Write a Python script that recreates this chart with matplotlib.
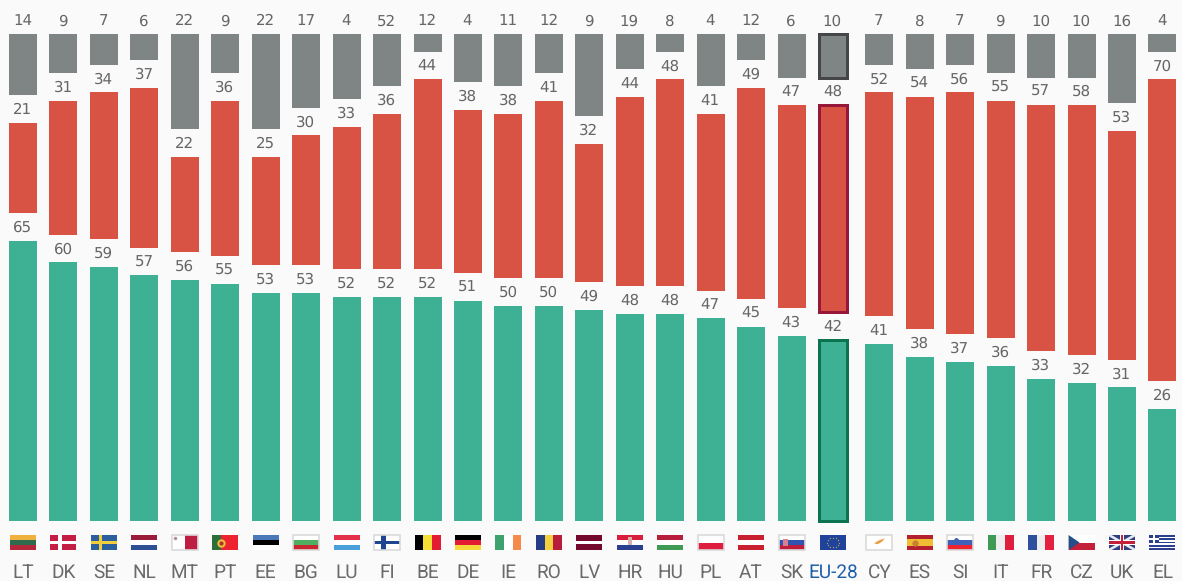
import matplotlib
matplotlib.use("Agg")
import matplotlib.pyplot as plt
from matplotlib.patches import Rectangle, Polygon
from matplotlib.transforms import Affine2D

plt.rcParams["text.hinting"] = "no_hinting"
plt.rcParams["text.hinting_factor"] = 1

categories = ["LT","DK","SE","NL","MT","PT","EE","BG","LU","FI","BE","DE","IE","RO","LV",
              "HR","HU","PL","AT","SK","EU-28","CY","ES","SI","IT","FR","CZ","UK","EL"]
green = [65,60,59,57,56,55,53,53,52,52,52,51,50,50,49,48,48,47,45,43,42,41,38,37,36,33,32,31,26]
red   = [21,31,34,37,22,36,25,30,33,36,44,38,38,41,32,44,48,41,49,47,48,52,54,56,55,57,58,53,70]
gray  = [14,9,7,6,22,9,22,17,15,12,4,11,12,9,19,8,4,12,6,10,10,7,8,7,9,10,10,16,4]
gray_labels = [14,9,7,6,22,9,22,17,4,52,12,4,11,12,9,19,8,4,12,6,10,7,8,7,9,10,10,16,4]

BG = "#FAFAFA"; GREEN = "#3EB094"; RED = "#D95344"; GRAY = "#7F8484"
TXT = "#666666"
W, H = 1182, 581
STEP, X0 = 40.45, 23.0     # px per category, first centre
PXU, BASE = 4.31, 521.0    # px per unit, baseline
GAP = 6.45                 # blank units between stacked segments
BW = 28 / STEP
EU = categories.index("EU-28")
xs = [k + (0.17 if k > EU else 0.02 if k == EU else 0) for k in range(len(categories))]

fig = plt.figure(figsize=(W/100, H/100), dpi=100, facecolor=BG)
ax = fig.add_axes([0, 0, 1, 1], facecolor=BG)
ax.set_xlim(-X0/STEP, (W-X0)/STEP)
ax.set_ylim(-(H-BASE)/PXU, BASE/PXU)
ax.axis("off")

b_red = [g + GAP for g in green]
b_gray = [g + r + 2*GAP for g, r in zip(green, red)]
ax.bar(xs, green, BW, color=GREEN)
ax.bar(xs, red, BW, bottom=b_red, color=RED)
ax.bar(xs, gray, BW, bottom=b_gray, color=GRAY)

# highlighted EU-28 bar
for bot, val, col in [(0, green[EU], "#0B7350"), (b_red[EU], red[EU], "#96173A"), (b_gray[EU], gray[EU], "#444648")]:
    ax.add_patch(Rectangle((xs[EU] - BW/2, bot), BW, val, fill=False, edgecolor=col,
                           linewidth=2.16, zorder=3))

def lab(x, top, s):
    ax.annotate(str(s), (x, top), xytext=(-0.3, 6.5), textcoords="offset points", ha="center",
                va="baseline", fontsize=11, color=TXT, family="DejaVu Sans")

for n, k in enumerate(xs):
    lab(k, green[n], green[n])
    lab(k, b_red[n] + red[n], red[n])
    lab(k, b_gray[n] + gray[n], gray_labels[n])
    ax.text(k, -(577.5-BASE)/PXU, categories[n], ha="center", va="baseline", fontsize=14,
            color="#1F5FA8" if n == EU else "#6A6A6A", family="Roboto")

# flags, drawn in a unit square placed below each bar
FW, FH, FTOP = 26.0, 15.0, 535.0
def flag_tf(n):
    return (Affine2D().scale(FW/STEP, -FH/PXU)
            .translate(xs[n] - FW/2/STEP, (BASE - FTOP)/PXU) + ax.transData)

def rect(k, u, v, w, h, c, z=3):
    ax.add_patch(Rectangle((u, v), w, h, facecolor=c, edgecolor="none", transform=flag_tf(k), zorder=z))
def poly(k, pts, c, z=4):
    ax.add_patch(Polygon(pts, closed=True, facecolor=c, edgecolor="none", transform=flag_tf(k), zorder=z))
def hs(k, cols, w=None):
    w = w or [1/len(cols)]*len(cols); v = 0
    for c, h in zip(cols, w):
        rect(k, 0, v, 1, h, c); v += h
def vs(k, cols, w=None):
    w = w or [1/len(cols)]*len(cols); u = 0
    for c, h in zip(cols, w):
        rect(k, u, 0, h, 1, c); u += h
def border(k):
    ax.add_patch(Rectangle((0, 0), 1, 1, fill=False, edgecolor="#DADADA", linewidth=1.2,
                           transform=flag_tf(k), zorder=6))
def cross(k, c, uc=0.36, tw=0.17, th=0.26):
    rect(k, uc - tw/2, 0, tw, 1, c, 5); rect(k, 0, 0.5 - th/2, 1, th, c, 5)
def dot(k, u, v, ms, c, z=7):
    ax.plot([xs[k] + (u-0.5)*FW/STEP], [(BASE - FTOP - v*FH)/PXU], "o", ms=ms, color=c, mew=0, zorder=z)

ix = categories.index
hs(ix("LT"), ["#F0B23C", "#2F6B4F", "#B5283C"])
rect(ix("DK"), 0, 0, 1, 1, "#C41E45"); cross(ix("DK"), "#FFFFFF")
rect(ix("SE"), 0, 0, 1, 1, "#2C5F9E"); cross(ix("SE"), "#F2CE3C", tw=0.13, th=0.2)
hs(ix("NL"), ["#9B1B3B", "#FFFFFF", "#2F4F93"])
vs(ix("MT"), ["#FFFFFF", "#BE1E42"], [0.5, 0.5]); border(ix("MT")); dot(ix("MT"), 0.12, 0.18, 2.5, "#B09090")
vs(ix("PT"), ["#2E6E3A", "#EE2330"], [0.33, 0.67]); dot(ix("PT"), 0.33, 0.5, 6, "#E8C23A"); dot(ix("PT"), 0.33, 0.5, 3, "#B03030", 8)
hs(ix("EE"), ["#4B78B8", "#000000", "#FFFFFF"])
hs(ix("BG"), ["#FFFFFF", "#4FAF60", "#C9252F"]); border(ix("BG"))
hs(ix("LU"), ["#E3304A", "#FFFFFF", "#4BA0DC"])
rect(ix("FI"), 0, 0, 1, 1, "#FFFFFF"); cross(ix("FI"), "#1F4590"); border(ix("FI"))
vs(ix("BE"), ["#000000", "#F5DF36", "#E31C33"])
hs(ix("DE"), ["#000000", "#E31C33", "#F5D93A"])
vs(ix("IE"), ["#3EA26E", "#FFFFFF", "#F58A4B"])
vs(ix("RO"), ["#263D85", "#F3D03E", "#B81E3C"])
hs(ix("LV"), ["#74092D", "#FFFFFF", "#74092D"], [0.4, 0.2, 0.4])
hs(ix("HR"), ["#D91E3C", "#FFFFFF", "#2A3F8F"]); rect(ix("HR"), 0.42, 0.15, 0.18, 0.5, "#D9B0B0", 6)
hs(ix("HU"), ["#B81E3C", "#FFFFFF", "#3F9A53"])
hs(ix("PL"), ["#FFFFFF", "#DF1E3F"], [0.5, 0.5]); border(ix("PL"))
hs(ix("AT"), ["#C8202E", "#FFFFFF", "#C8202E"])
hs(ix("SK"), ["#FFFFFF", "#2F55B0", "#BE1E3C"]); border(ix("SK")); rect(ix("SK"), 0.17, 0.28, 0.2, 0.45, "#D98090", 7)
rect(ix("EU-28"), 0, 0, 1, 1, "#1F429B")
EU_STARS = [(0.5,0.18),(0.62,0.22),(0.7,0.35),(0.72,0.5),(0.7,0.65),(0.62,0.78),
            (0.5,0.82),(0.38,0.78),(0.3,0.65),(0.28,0.5),(0.3,0.35),(0.38,0.22)]
for u, v in EU_STARS:
    dot(ix("EU-28"), u, v, 1.0, "#A8A060")
rect(ix("CY"), 0, 0, 1, 1, "#FFFFFF"); border(ix("CY"))
poly(ix("CY"), [(0.3,0.55),(0.5,0.35),(0.72,0.22),(0.6,0.45),(0.42,0.62)], "#EE9A3C")
hs(ix("ES"), ["#B5202F", "#F0BE35", "#B5202F"], [0.25, 0.5, 0.25]); dot(ix("ES"), 0.3, 0.5, 4.5, "#C98030")
hs(ix("SI"), ["#FFFFFF", "#3F62B8", "#EE2330"]); border(ix("SI")); dot(ix("SI"), 0.33, 0.3, 3.5, "#3F62B8")
vs(ix("IT"), ["#3F9A53", "#EEEEEE", "#DF1E3F"])
vs(ix("FR"), ["#2E4E9E", "#EEEEEE", "#E3203F"])
hs(ix("CZ"), ["#FFFFFF", "#C4203A"], [0.5, 0.5])
poly(ix("CZ"), [(0,0),(0.42,0.5),(0,1)], "#264F8A")
k = ix("UK")
rect(k, 0, 0, 1, 1, "#2C3F7F")
for pts in ([(0,0),(0.1,0),(1,0.9),(1,1),(0.9,1),(0,0.1)], [(1,0),(0.9,0),(0,0.9),(0,1),(0.1,1),(1,0.1)]):
    poly(k, pts, "#E8E8F0")
rect(k, 0.41, 0, 0.18, 1, "#FFFFFF", 5); rect(k, 0, 0.35, 1, 0.3, "#FFFFFF", 5)
rect(k, 0.45, 0, 0.1, 1, "#C4203A", 6); rect(k, 0, 0.41, 1, 0.18, "#C4203A", 6)
k = ix("EL")
hs(k, ["#2C3F8F", "#FFFFFF"]*4 + ["#2C3F8F"])
rect(k, 0, 0, 0.37, 5/9, "#2C3F8F", 5)
rect(k, 0.14, 0, 0.09, 5/9, "#FFFFFF", 6); rect(k, 0, 2/9, 0.37, 1/9, "#FFFFFF", 6)

fig.savefig("out.png", dpi=100, facecolor=BG)
